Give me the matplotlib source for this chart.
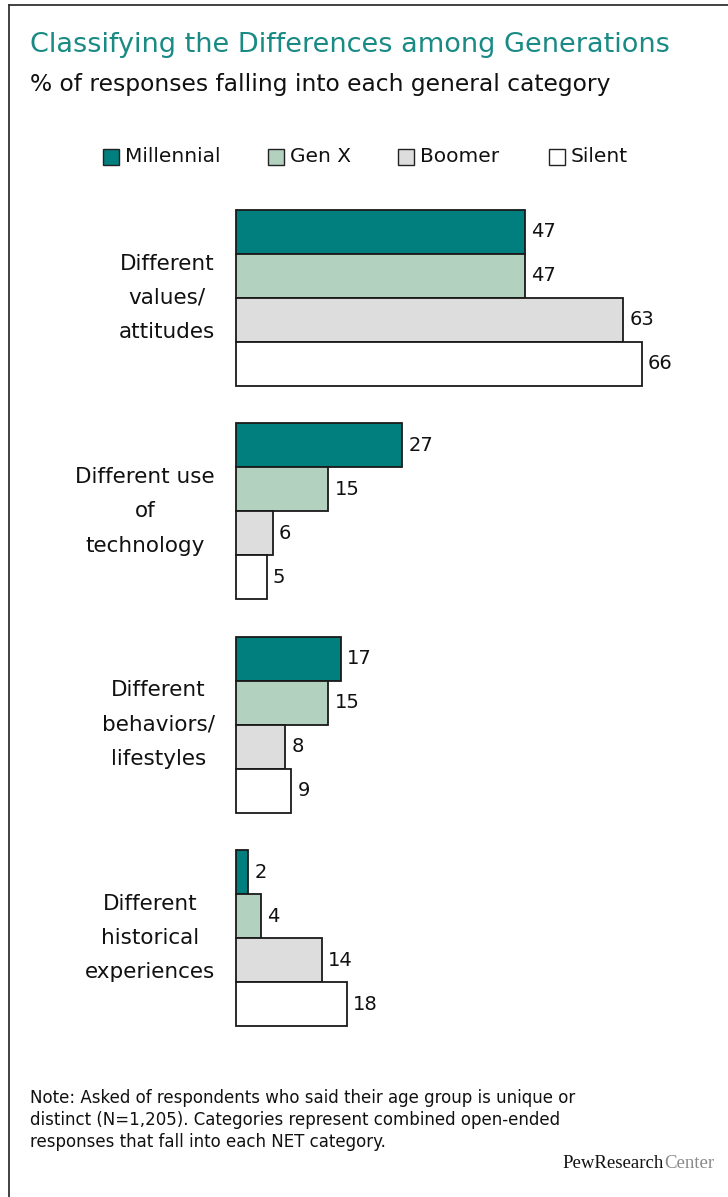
import matplotlib
matplotlib.use("Agg")
import matplotlib.pyplot as plt
from matplotlib.patches import Rectangle
from matplotlib.lines import Line2D

categories = ["Different\nvalues/\nattitudes",
              "Different use\nof\ntechnology",
              "Different\nbehaviors/\nlifestyles",
              "Different\nhistorical\nexperiences"]
series = ["Millennial", "Gen X", "Boomer", "Silent"]
values = {
    "Millennial": [47, 27, 17, 2],
    "Gen X": [47, 15, 15, 4],
    "Boomer": [63, 6, 8, 14],
    "Silent": [66, 5, 9, 18],
}
colors = {"Millennial": "#007f7e", "Gen X": "#b3d1bf", "Boomer": "#dddddd", "Silent": "#ffffff"}

title = "Classifying the Differences among Generations"
subtitle = "% of responses falling into each general category"
note = ("Note: Asked of respondents who said their age group is unique or\n"
        "distinct (N=1,205). Categories represent combined open-ended\n"
        "responses that fall into each NET category.")

W, H = 728, 1197
plt.rcParams['font.family'] = ['DejaVu Sans']
fig = plt.figure(figsize=(W / 100, H / 100), dpi=100)


def fx(x):
    return x / W


def fy(y):
    return 1 - y / H


# frame (left + top only, the rest runs off the image)
fig.add_artist(Line2D([fx(9), fx(9)], [fy(5), 0], color="#333333", lw=1.3))
fig.add_artist(Line2D([fx(9), 1], [fy(5), fy(5)], color="#333333", lw=1.3))

fig.text(fx(30), fy(45), title, color="#1a8a85", fontsize=19.5, va="center", ha="left")
fig.text(fx(30), fy(84), subtitle, color="#111111", fontsize=16.8, va="center", ha="left")

# legend
leg_x = [(103, 125), (268, 290), (398, 420), (549, 571)]
for s, (sx, tx) in zip(series, leg_x):
    fig.add_artist(Rectangle((fx(sx), fy(165)), 16 / W, 16 / H, transform=fig.transFigure,
                             facecolor=colors[s], edgecolor="#222222", lw=1.0))
    fig.text(fx(tx), fy(157), s, fontsize=14.5, va="center", ha="left", color="#111111")

# bars
top_px, bot_px = 210, 1026
ax = fig.add_axes([fx(236), fy(bot_px), (W - 236) / W, (bot_px - top_px) / H])
gap = 4.85
for j, s in enumerate(series):
    ys = [g * gap + j for g in range(len(categories))]
    bars = ax.barh(ys, values[s], height=1.0, color=colors[s], edgecolor="#1a1a1a", linewidth=1.3)
    for b in bars:
        b.set_clip_on(False)
    for y, v in zip(ys, values[s]):
        ax.text(v + 1.0, y, str(v), fontsize=14, va="center", ha="left", color="#111111")

for g, c in enumerate(categories):
    ax.text(-3.4, g * gap + 1.5, c, fontsize=15.5, ha="right", va="center",
            multialignment="center", linespacing=1.9, color="#111111", clip_on=False)

ax.set_xlim(0, (W - 236) / 6.15)
ax.set_ylim(3 * gap + 3.5, -0.5)
ax.axis("off")

fig.text(fx(30), fy(1089), note, fontsize=12, va="top", ha="left", color="#111111",
         linespacing=1.3)

# logo
r = fig.canvas.get_renderer()
t2 = fig.text(fx(714), fy(1163), "Center", family="Liberation Serif", fontsize=13.5,
              color="#8a8a8a", va="center", ha="right")
bb = t2.get_window_extent(renderer=r)
fig.text(bb.x0 / W, fy(1163), "PewResearch", family="Liberation Serif", fontsize=13.5,
         color="#111111", va="center", ha="right")

fig.savefig("out.png", dpi=100)
